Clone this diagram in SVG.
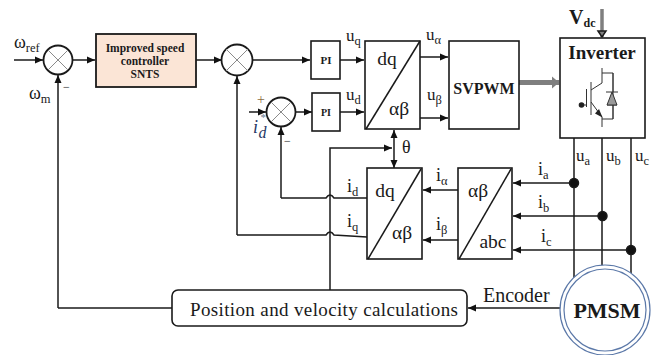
<svg xmlns="http://www.w3.org/2000/svg" width="658" height="355" viewBox="0 0 658 355">
<defs>
<marker id="a" markerWidth="9" markerHeight="8" refX="8" refY="4" orient="auto-start-reverse" markerUnits="userSpaceOnUse"><path d="M0,0.5L8,4L0,7.5Z" fill="#111"/></marker>
<marker id="g" markerWidth="8" markerHeight="14" refX="7" refY="7" orient="auto" markerUnits="userSpaceOnUse"><path d="M0,1L7,7L0,13Z" fill="#7f7f7f"/></marker>
</defs>
<style>
text{font-family:"Liberation Serif","Times New Roman",serif;fill:#1a1a1a}
.b{fill:#fff;stroke:#1a1a1a;stroke-width:1.6}
.w{fill:none;stroke:#1a1a1a;stroke-width:1.5}
.s{fill:#fff;stroke:#1a1a1a;stroke-width:1.8}
.x{stroke:#8a8a8a;stroke-width:1}
.l{font-size:17px}
.i{font-size:18px}
.u{font-size:12.500px}
.t{font-size:19.500px}
.bd{font-weight:bold}
.m{text-anchor:middle}
.v{fill:none;stroke:#333;stroke-width:1}
</style>
<rect width="658" height="355" fill="#fff"/>
<g id="connectors" class="w">
<path class="w" d="M14,60H43" marker-end="url(#a)"/>
<path class="w" d="M73,60H95" marker-end="url(#a)"/>
<path class="w" d="M196,60H222" marker-end="url(#a)"/>
<path class="w" d="M253,60H310" marker-end="url(#a)"/>
<path class="w" d="M249,112H266" marker-end="url(#a)"/>
<path class="w" d="M296,112H312" marker-end="url(#a)"/>
<path class="w" d="M340,60H364" marker-end="url(#a)"/>
<path class="w" d="M340,112H364" marker-end="url(#a)"/>
<path class="w" d="M420,57H448" marker-end="url(#a)"/>
<path class="w" d="M420,118H448" marker-end="url(#a)"/>
<path d="M519,82.500H559" fill="none" stroke="#7f7f7f" stroke-width="5" marker-end="url(#g)"/>
<path d="M602,9V37" fill="none" stroke="#7f7f7f" stroke-width="3.500"/>
<path d="M598,31L602,37L606,31Z" fill="#7f7f7f"/>
<path class="w" d="M394,130V168" marker-start="url(#a)" marker-end="url(#a)"/>
<path class="w" d="M330,290V148H392" marker-end="url(#a)"/>
<path class="w" d="M58,308V75" marker-end="url(#a)"/>
<path class="w" d="M172,308H58"/>
<path class="w" d="M237,235V76" marker-end="url(#a)"/>
<path class="w" d="M281,198V127" marker-end="url(#a)"/>
<path class="w" d="M281,198H326Q330,192 334,198H367"/>
<path class="w" d="M237,235H326Q330,229 334,235L367,237"/>
<path class="w" d="M458,190H423" marker-end="url(#a)"/>
<path class="w" d="M458,240H423" marker-end="url(#a)"/>
<path class="w" d="M574,183H513" marker-end="url(#a)"/>
<path class="w" d="M602,216H513" marker-end="url(#a)"/>
<path class="w" d="M631,250H513" marker-end="url(#a)"/>
<path class="w" d="M574,138V280M602,138V270M631,138V275"/>
<path class="w" d="M561,308H468" marker-end="url(#a)"/>
<circle cx="574" cy="183" r="4.500" fill="#111"/>
<circle cx="602.500" cy="216" r="4.500" fill="#111"/>
<circle cx="631" cy="250" r="4.500" fill="#111"/>
</g>
<g id="sum1"><circle class="s" cx="58" cy="60" r="14.500"/><path class="x" d="M48,50L68,70M68,50L48,70"/></g>
<g id="sum2"><circle class="s" cx="237" cy="60" r="15.500"/><path class="x" d="M226,49L248,71M248,49L226,71"/></g>
<g id="sum3"><circle class="s" cx="281" cy="112" r="14.500"/><path class="x" d="M271,102L291,122M291,102L271,122"/></g>
<g id="controller"><rect x="96" y="34" width="100" height="53" fill="#fbe5d6" stroke="#1a1a1a" stroke-width="1.800"/>
<text class="bd m" x="145" y="52" font-size="11.500">Improved speed</text><text class="bd m" x="145" y="65" font-size="11.500">controller</text><text class="bd m" x="145" y="78" font-size="11.500">SNTS</text></g>
<g id="pi1"><rect class="b" x="311" y="41" width="29" height="38"/><text class="bd m" x="326" y="64" font-size="11">PI</text></g>
<g id="pi2"><rect class="b" x="312" y="93" width="28" height="38"/><text class="bd m" x="326" y="116" font-size="10">PI</text></g>
<g id="dq-ab"><rect class="b" x="365" y="41" width="55" height="88"/><path class="w" d="M366,129L420,41"/><text class="t m" x="387" y="65">dq</text><text class="t m" x="399" y="115">αβ</text></g>
<g id="svpwm"><rect class="b" x="449" y="41" width="70" height="88"/><text class="bd m" x="484" y="94" font-size="16">SVPWM</text></g>
<g id="inverter"><rect class="b" x="560" y="38" width="85" height="100"/><text class="bd m" x="602" y="59" font-size="19">Inverter</text>
<path class="v" d="M586.500,89V107M591,82V115M602,68V83L591,90M602,73H613V119H602M591,102L602,117V127M586.500,105H582M606,92H618M607,105H617M613,73V92M613,105V119"/>
<path d="M607,105L612,92L617,105Z" fill="#999" stroke="#333" stroke-width="1"/>
<path d="M602.500,117.500L595,113.500L599,109Z" fill="#222"/><circle cx="581.500" cy="105" r="2.800" fill="#222"/></g>
<g id="dq-ab-lower"><rect class="b" x="367" y="168" width="55" height="91"/><path class="w" d="M368,259L421,169"/><text class="t m" x="385" y="197">dq</text><text class="t m" x="402" y="239">αβ</text></g>
<g id="ab-abc"><rect class="b" x="458" y="168" width="54" height="91"/><path class="w" d="M459,259L511,169"/><text class="t m" x="478" y="197">αβ</text><text class="t m" x="493" y="248">abc</text></g>
<g id="position"><rect class="b" x="172" y="290" width="295" height="36" rx="6"/><text x="190" y="316" font-size="19" textLength="268" lengthAdjust="spacing">Position and velocity calculations</text></g>
<g id="pmsm"><circle cx="605" cy="310" r="45" fill="#fff" stroke="#5b78a8" stroke-width="1.200"/><circle cx="605" cy="310" r="41" fill="#fff" stroke="#5b78a8" stroke-width="1.200"/><text class="bd m" x="607" y="318" font-size="22">PMSM</text></g>
<g id="labels">
<text class="i" x="14" y="48">ω<tspan class="u" dy="4">ref</tspan></text>
<text class="i" x="29" y="99">ω<tspan class="u" dy="4">m</tspan></text>
<text x="63" y="91" font-size="12">−</text>
<text x="284" y="145" font-size="12">−</text>
<text x="257" y="104" font-size="14" style="fill:#8a6a40">+</text>
<text x="253" y="133" font-size="18" font-style="italic" style="fill:#1f3864">i<tspan dx="2" dy="-12" font-size="11" style="fill:#6a7a90">*</tspan><tspan dx="-7" dy="17" font-size="16" style="fill:#1f3864">d</tspan></text>
<text class="l" x="346" y="41">u<tspan class="u" dy="4">q</tspan></text>
<text class="l" x="346" y="100">u<tspan class="u" dy="4">d</tspan></text>
<text class="l" x="426" y="40">u<tspan class="u" dy="4">α</tspan></text>
<text class="l" x="427" y="100">u<tspan class="u" dy="4">β</tspan></text>
<text class="bd" x="569" y="24" font-size="20">V<tspan dy="3" font-size="12">dc</tspan></text>
<text x="402" y="153" font-size="18">θ</text>
<text class="l" x="576" y="161">u<tspan class="u" dy="4">a</tspan></text>
<text class="l" x="606" y="161">u<tspan class="u" dy="4">b</tspan></text>
<text class="l" x="635" y="161">u<tspan class="u" dy="4">c</tspan></text>
<text class="i" x="347" y="192">i<tspan class="u" dy="4">d</tspan></text>
<text class="i" x="347" y="227">i<tspan class="u" dy="4">q</tspan></text>
<text class="i" x="436" y="181">i<tspan class="u" dy="4">α</tspan></text>
<text class="i" x="436" y="230">i<tspan class="u" dy="4">β</tspan></text>
<text class="i" x="538" y="175">i<tspan class="u" dy="4">a</tspan></text>
<text class="i" x="538" y="208">i<tspan class="u" dy="4">b</tspan></text>
<text class="i" x="541" y="242">i<tspan class="u" dy="4">c</tspan></text>
<text x="483" y="302" font-size="20">Encoder</text>
</g>
</svg>
